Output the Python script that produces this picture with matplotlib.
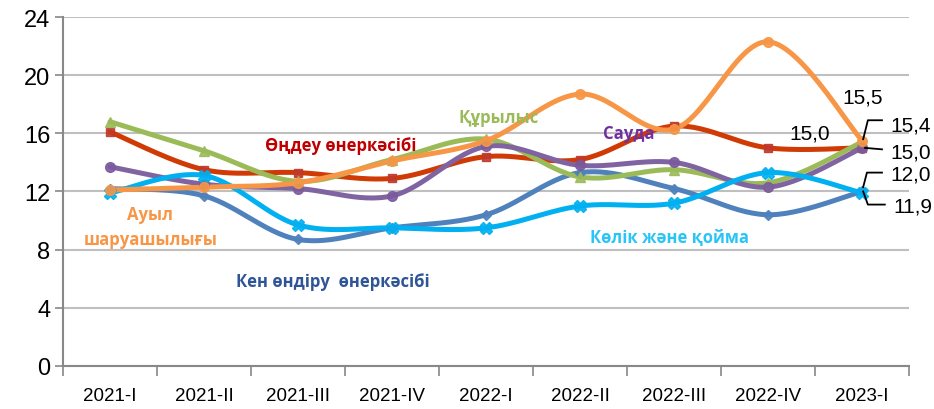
import matplotlib.pyplot as plt
from matplotlib import font_manager
import numpy as np

plt.rcParams['font.family'] = ['Open Sans', 'DejaVu Sans']

quarters = ["2021-I", "2021-II", "2021-III", "2021-IV", "2022-I", "2022-II", "2022-III", "2022-IV", "2023-I"]

ondeu = [16.1, 13.5, 13.3, 12.9, 14.4, 14.2, 16.5, 15.0, 15.0]
qurylys = [16.8, 14.8, 12.7, 14.2, 15.6, 13.0, 13.5, 12.6, 15.4]
sauda = [13.7, 12.5, 12.2, 11.7, 15.1, 13.8, 14.0, 12.3, 15.0]
ken = [12.2, 11.7, 8.7, 9.5, 10.4, 13.3, 12.2, 10.4, 12.0]
kolik = [11.9, 13.1, 9.7, 9.5, 9.5, 11.0, 11.2, 13.3, 11.9]
auyl = [12.1, 12.3, 12.6, 14.1, 15.5, 18.7, 16.3, 22.3, 15.5]


def smooth(y, n=30):
    # Excel-like smoothed line (Catmull-Rom as cubic Bezier)
    y = np.asarray(y, dtype=float)
    x = np.arange(len(y), dtype=float)
    pts = np.column_stack([x, y])
    out = [pts[:1]]
    t = np.linspace(0, 1, n)[1:, None]
    for i in range(len(pts) - 1):
        p0 = pts[i - 1] if i > 0 else pts[i]
        p1, p2 = pts[i], pts[i + 1]
        p3 = pts[i + 2] if i + 2 < len(pts) else pts[i + 1]
        c1 = p1 + (p2 - p0) / 6
        c2 = p2 - (p3 - p1) / 6
        seg = (1 - t) ** 3 * p1 + 3 * (1 - t) ** 2 * t * c1 + 3 * (1 - t) * t ** 2 * c2 + t ** 3 * p2
        out.append(seg)
    res = np.vstack(out)
    return res[:, 0], res[:, 1]


names = {f.name for f in font_manager.fontManager.ttflist}
narrow = 'Liberation Sans Narrow' if 'Liberation Sans Narrow' in names else 'Liberation Sans'

fig = plt.figure(figsize=(9.34, 4.10), dpi=100)
ax = fig.add_axes([0.0675, 0.105, 0.906, 0.851])

series = [
    (ken, "#4F81BD", "#4F81BD", "D", 5),
    (ondeu, "#D03A05", "#C0392B", "s", 6),
    (qurylys, "#9BBB59", "#9BBB59", "^", 7),
    (sauda, "#8064A2", "#7A5A9E", "o", 7),
    (kolik, "#00B0F0", "#00B0F0", "X", 8),
    (auyl, "#F79646", "#F79646", "o", 7),
]

xs = np.arange(len(quarters))
for vals, lc, mc, mk, ms in series:
    sx, sy = smooth(vals)
    ax.plot(sx, sy, color=lc, lw=3.6, solid_capstyle='round', zorder=3)
    ax.plot(xs, vals, ls='none', marker=mk, ms=ms, color=mc, mec=mc, alpha=0.9, zorder=4)

ax.set_xlim(-0.5, len(quarters) - 0.5)
ax.set_ylim(0, 24)
ax.set_yticks(np.arange(0, 25, 4))
ax.set_xticks(xs)
ax.set_xticklabels(quarters, fontsize=13.5, family=[narrow, 'DejaVu Sans'])
ax.set_yticklabels([str(v) for v in range(0, 25, 4)], fontsize=17, family=[narrow, 'DejaVu Sans'])
ax.set_xticks(np.arange(-0.5, len(quarters), 1), minor=True)
ax.tick_params(axis='x', which='major', length=0, pad=15)
ax.tick_params(axis='x', which='minor', length=7, width=1.2, color='#888888', direction='out')
ax.tick_params(axis='y', length=6, width=1.2, color='#888888', direction='out', pad=3)

ax.grid(axis='y', color='#BFBFBF', lw=1.5, zorder=0)
ax.set_axisbelow(True)
for s in ['top', 'right']:
    ax.spines[s].set_visible(False)
for s in ['left', 'bottom']:
    ax.spines[s].set_color('#888888')
    ax.spines[s].set_linewidth(1.5)

# series names
lab = dict(fontsize=12, fontweight='bold', ha='center', va='center')
ax.text(2.45, 15.2, "Өңдеу өнеркәсібі", color="#C00000", **lab)
ax.text(4.13, 17.1, "Құрылыс", color="#9BBB59", **lab)
ax.text(5.52, 16.0, "Сауда", color="#7030A0", **lab)
ax.text(0.43, 9.6, "Ауыл\nшаруашылығы", color="#F79646", linespacing=1.5, **lab)
ax.text(2.37, 5.85, "Кен өндіру  өнеркәсібі", color="#2F5597", **lab)
ax.text(5.95, 8.9, "Көлік және қойма", color="#29C5F6", **lab)

# value labels for the last quarter
val = dict(fontsize=15, va='center', family=[narrow, 'DejaVu Sans'])
ax.text(8.0, 18.5, "15,5", ha='center', **val)
ax.text(7.44, 16.0, "15,0", ha='center', **val)
ax.text(8.3, 16.6, "15,4", ha='left', **val)
ax.text(8.3, 14.7, "15,0", ha='left', **val)
ax.text(8.3, 13.2, "12,0", ha='left', **val)
ax.text(8.33, 11.0, "11,9", ha='left', **val)

# leader lines
lk = dict(color='black', lw=1.3, zorder=5, clip_on=False)
ax.plot([8.01, 8.06, 8.21], [15.6, 16.9, 16.9], **lk)
ax.plot([8.03, 8.21], [15.0, 14.9], **lk)
ax.plot([8.01, 8.05, 8.21], [12.3, 13.3, 13.3], **lk)
ax.plot([8.01, 8.06, 8.24], [12.0, 11.1, 11.1], **lk)

fig.savefig("out.png", dpi=100)
